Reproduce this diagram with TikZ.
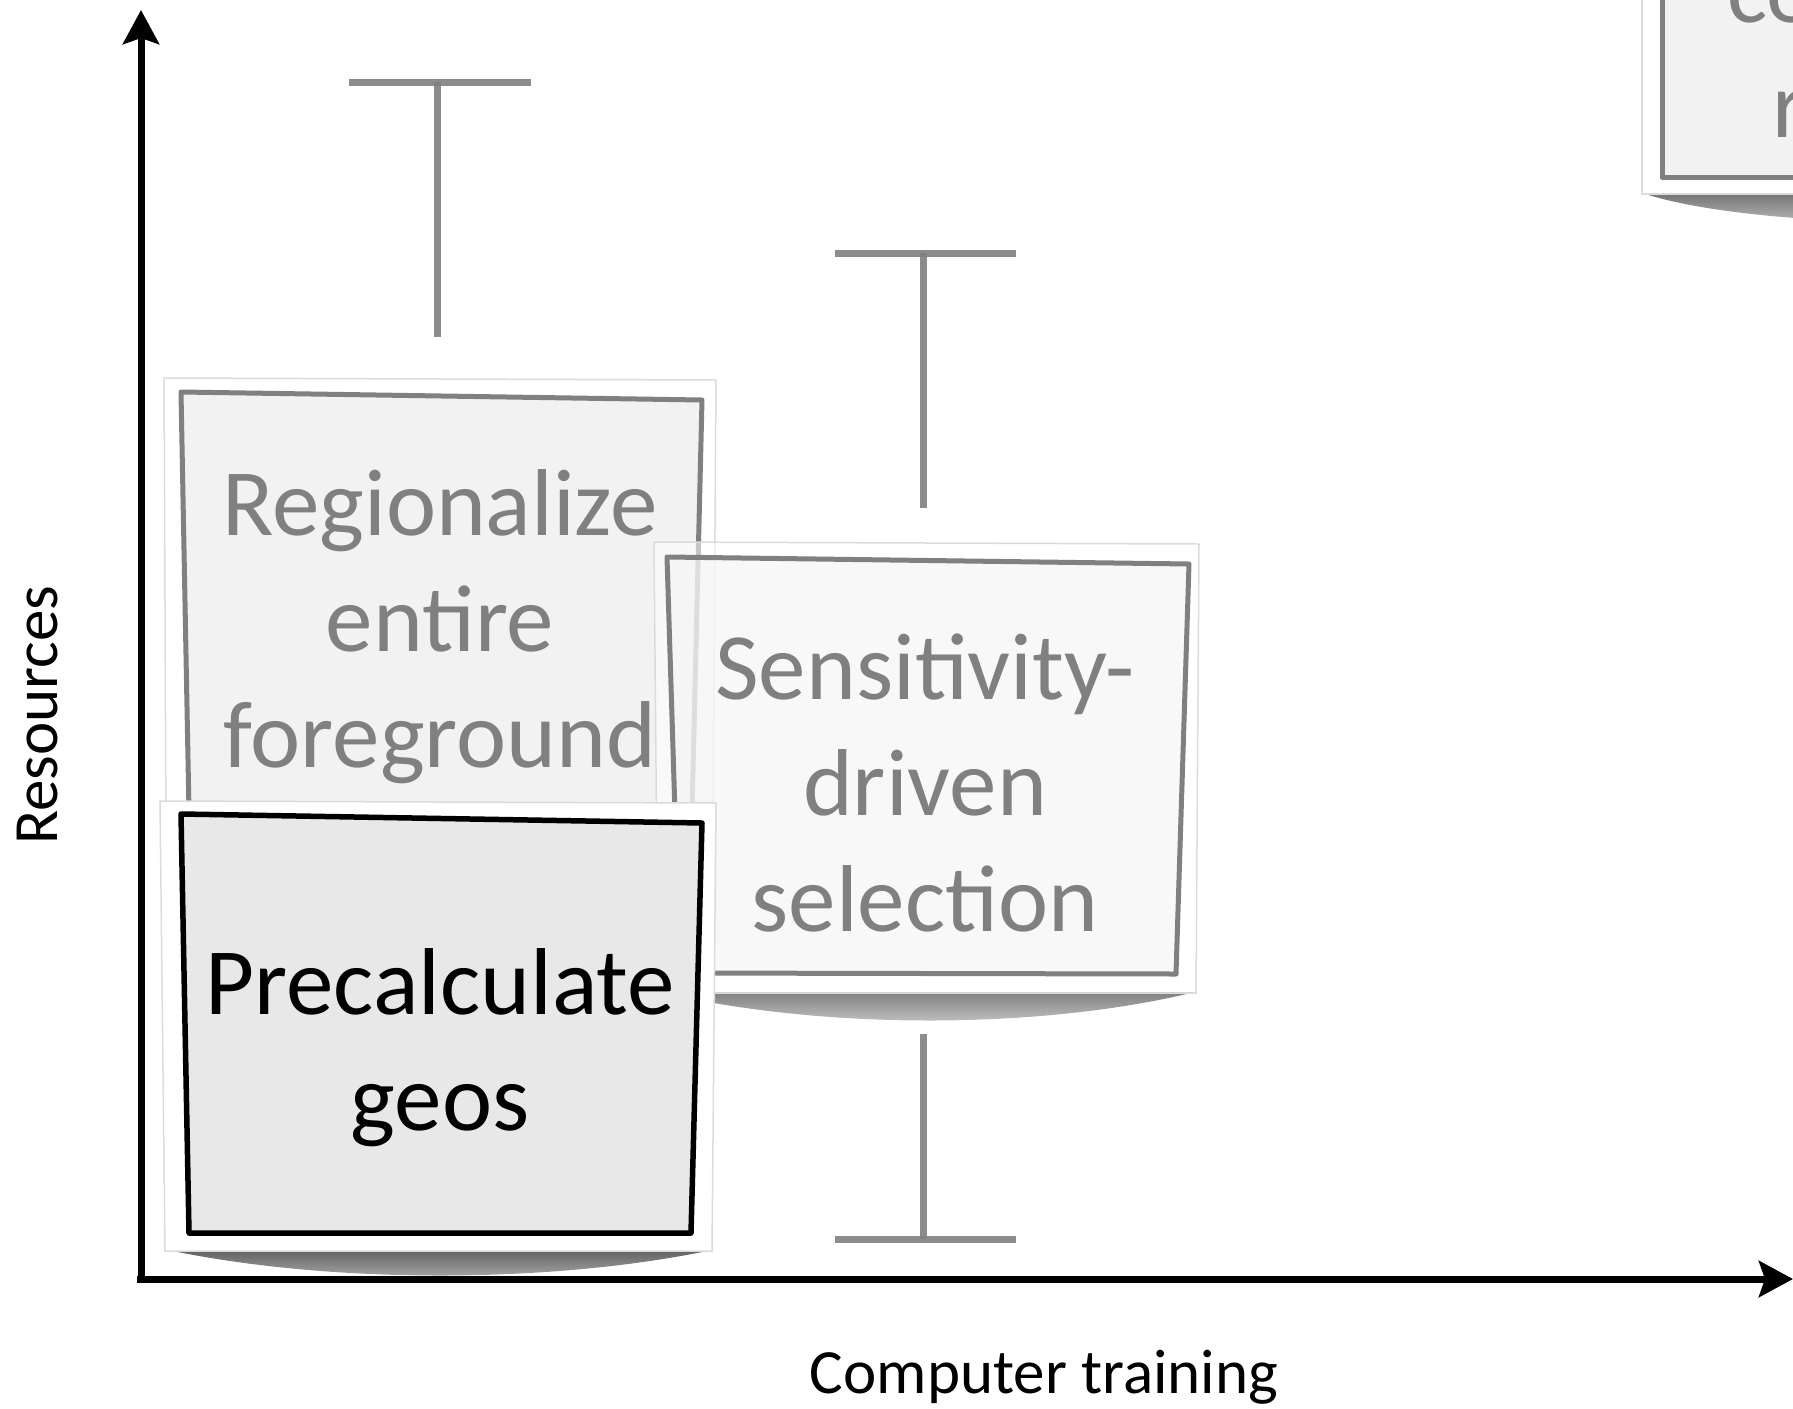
\documentclass[tikz,border=0pt]{standalone}
\usepackage{fontspec}
\setmainfont{Carlito}
\usetikzlibrary{arrows.meta}
\begin{document}
\begin{tikzpicture}[x=1pt,y=-1pt,
  axis/.style={line width=7pt,-{Stealth[length=34pt,width=36pt,inset=6pt]}},
  errbar/.style={draw=black!50,line width=7pt,draw opacity=0.9},
  photoframe/.style={fill=white,draw=black!14,line width=1.5pt},
  paleboard/.style={fill=black!5,draw=black!50,line width=5pt,line join=round},
  darkboard/.style={fill=black!9,draw=black,line width=5.5pt,line join=round},
  boxtext/.style={font=\fontsize{95}{116}\selectfont,align=center,inner sep=0pt},
  axislabel/.style={font=\fontsize{63}{76}\selectfont,inner sep=0pt},
]
\useasboundingbox (0,0) rectangle (1793,1408);
\clip (0,0) rectangle (1793,1408);

% box at the upper right, running off the page
\shade[top color=black!55,bottom color=black!20]
  (1642,193) .. controls (1760,232) and (2070,232) .. (2187,193) -- cycle;
\draw[photoframe] (1642,-300) -- (2187,-300) -- (2187,194) -- (1642,194) -- cycle;
\draw[paleboard] (1662,-290) -- (2170,-290) -- (2170,177) -- (1662,177) -- cycle;
\node[boxtext,text=black!50,anchor=base west] (tco) at (1727,22) {co};
\node[boxtext,text=black!50,anchor=base west] (tr) at (1772,137) {r};

% Regionalize entire foreground
\draw[photoframe] (164,378) -- (716,380) -- (713,832) -- (166,832) -- cycle;
\draw[paleboard] (181,392) -- (702,400) -- (692,812) -- (189,812) -- cycle;
\node[boxtext,text=black!50] (regio) at (440,628.5)
  {\strut Regionalize\\\strut entire\\\strut foreground};

% Sensitivity-driven selection
\shade[top color=black!50,bottom color=black!18]
  (660,992) .. controls (820,1030) and (1040,1030) .. (1195,992) -- cycle;
\draw[photoframe,fill opacity=0.55] (654,542) -- (1199,544) -- (1196,993) -- (658,993) -- cycle;
\draw[paleboard,fill opacity=0.55] (667,557) -- (1189,564) -- (1176,974) -- (680,973) -- cycle;
\node[boxtext,text=black!50] (sens) at (925,792)
  {\strut Sensitivity-\\\strut driven\\\strut selection};

% Precalculate geos
\shade[top color=black!62,bottom color=black!28]
  (168,1250) .. controls (330,1284) and (550,1284) .. (712,1250) -- cycle;
\draw[photoframe] (160,801) -- (716,803) -- (712,1251) -- (165,1251) -- cycle;
\draw[darkboard] (181,814) -- (702,823) -- (691,1233) -- (189,1233) -- cycle;
\node[boxtext,text=black] (precalc) at (440,1049.5)
  {\strut Precalculate\\\strut geos};

% error bars
\coordinate (e1top) at (437,82);
\coordinate (e1bot) at (437,337);
\coordinate (e1l) at (349,82);
\coordinate (e1r) at (531,82);
\coordinate (e2top) at (923,253);
\coordinate (e2mid) at (923,508);
\coordinate (e2l) at (835,253);
\coordinate (e2r) at (1016,253);
\coordinate (e3top) at (923,1034);
\coordinate (e3bot) at (923,1239);
\coordinate (e3l) at (835,1239);
\coordinate (e3r) at (1016,1239);
\draw[errbar] (e1l) -- (e1r);
\draw[errbar] (e1top) -- (e1bot);
\draw[errbar] (e2l) -- (e2r);
\draw[errbar] (e2top) -- (e2mid);
\draw[errbar] (e3l) -- (e3r);
\draw[errbar] (e3top) -- (e3bot);

% axes
\coordinate (origin) at (141,1279);
\coordinate (ytip) at (141,10);
\coordinate (xstart) at (137,1279);
\coordinate (xtip) at (1793,1279);
\draw[axis] (141,1282.5) -- (ytip);
\draw[axis] (xstart) -- (xtip);

% axis labels
\node[axislabel,rotate=90,anchor=base] (ylab) at (57,715) {Resources};
\node[axislabel,anchor=base] (xlab) at (1044,1393) {Computer training};
\end{tikzpicture}
\end{document}
